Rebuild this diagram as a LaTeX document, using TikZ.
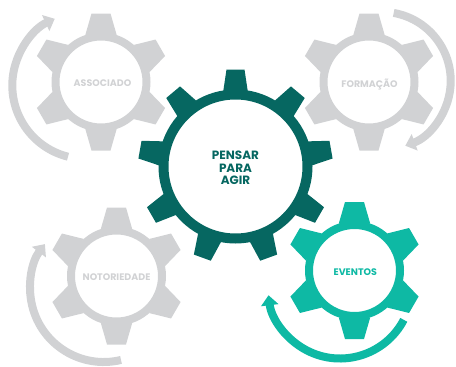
\documentclass[tikz,border=0pt]{standalone}
\usepackage{fontspec}
\setmainfont{Poppins}
\usetikzlibrary{arrows.meta}
\definecolor{gdark}{HTML}{066761}
\definecolor{gteal}{HTML}{0EB9A4}
\definecolor{ggray}{HTML}{D1D2D4}
\newcommand\drawsmallgear[3]{%
  \fill[#3, even odd rule] (#1,#2) circle[radius=49.5] (#1,#2) circle[radius=41.5];
  \foreach \a in {30,90,...,330} {
    \fill[#3, shift={(#1,#2)}, rotate=\a] (47,-15.7) -- (68.5,-9.5) -- (68.5,9.5) -- (47,15.7) -- cycle;
  }%
}
\newcommand\drawbiggear[3]{%
  \fill[#3, even odd rule] (#1,#2) circle[radius=77] (#1,#2) circle[radius=67];
  \foreach \a in {10,50,...,330} {
    \fill[#3, shift={(#1,#2)}, rotate=\a] (75,-12.3) -- (97,-9) -- (97,9) -- (75,12.3) -- cycle;
  }%
}
\begin{document}
\begin{tikzpicture}[x=1pt,y=-1pt,
  cycarrow/.style={line width=8pt, -{Triangle[width=17pt,length=10pt]}},
  smalllabel/.style={font=\fontsize{9.5}{11}\selectfont\bfseries, anchor=base, inner sep=0pt},
  biglabel/.style={font=\fontsize{12}{12}\selectfont\bfseries, anchor=base, inner sep=0pt, text=gdark}]
\useasboundingbox (0,0) rectangle (456,367);

% gears
\drawsmallgear{101}{82}{ggray}
\drawsmallgear{369}{82}{ggray}
\drawsmallgear{116.5}{276}{ggray}
\drawsmallgear{354.5}{270.5}{gteal}
\drawbiggear{235.5}{166.5}{gdark}

% cycle arrows
\draw[cycarrow, ggray] ([shift={(104:73.5)}]85.8,85.4) arc[start angle=104, end angle=245, radius=73.5];
\draw[cycarrow, ggray] ([shift={(-80:69)}]381.7,80.9) arc[start angle=-80, end angle=70, radius=69];
\draw[cycarrow, ggray] ([shift={(76.4:73.6)}]103.7,288.4) arc[start angle=76.4, end angle=217, radius=73.6];
\draw[cycarrow, gteal] ([shift={(27.6:72)}]340,286.5) arc[start angle=27.6, end angle=173, radius=72];

% labels
\node[smalllabel, text=ggray] (assoc) at (102.5,86.8) {ASSOCIADO};
\node[smalllabel, text=ggray] (form) at (369.5,87.5) {FORMAÇÃO};
\node[smalllabel, text=ggray] (noto) at (116.5,280.7) {NOTORIEDADE};
\node[smalllabel, text=gteal] (even) at (355.3,275) {EVENTOS};
\node[biglabel] (pensar) at (235.5,159.3) {PENSAR};
\node[biglabel] (para) at (235.5,172.3) {PARA};
\node[biglabel] (agir) at (235.5,184.2) {AGIR};
\end{tikzpicture}
\end{document}
